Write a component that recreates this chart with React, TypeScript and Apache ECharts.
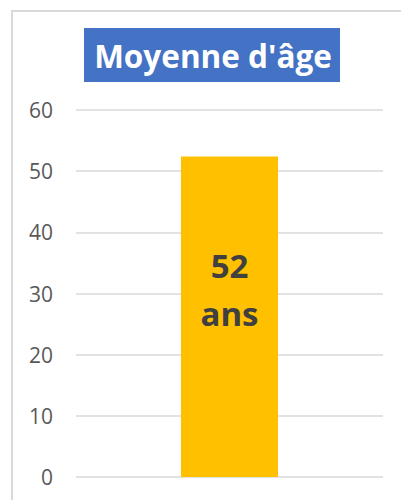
import React, { useEffect, useRef } from "react";
import * as echarts from "echarts";

const categories = ["Moyenne"];
const values = [52.4];
const labelText = "52\nans";
const titleText = "Moyenne d'âge";
const yTicks = { min: 0, max: 60, interval: 10 };

export default function App() {
  const ref = useRef<HTMLDivElement>(null);
  useEffect(() => {
    document.body.style.margin = "0";
    const chart = echarts.init(ref.current!, null, { renderer: "svg" });
    chart.setOption({
      animation: false,
      backgroundColor: "#ffffff",
      grid: { left: 76, right: 18, top: 110, bottom: 23, containLabel: false },
      graphic: [
        {
          type: "rect",
          shape: { x: 12, y: 11, width: 420, height: 520 },
          style: { fill: "none", stroke: "#d9d9d9", lineWidth: 2 },
          silent: true,
          z: -1,
        },
        {
          type: "rect",
          shape: { x: 84, y: 28, width: 256, height: 54 },
          style: { fill: "#4472C4" },
          z: 1,
        },
        {
          type: "text",
          x: 213,
          y: 55,
          style: {
            text: titleText,
            fill: "#ffffff",
            font: "bold 31.5px 'Open Sans'",
            align: "center",
            verticalAlign: "middle",
          },
          z: 2,
        },
      ],
      xAxis: {
        type: "category",
        data: categories,
        axisLine: { show: false },
        axisTick: { show: false },
        axisLabel: { show: false },
      },
      yAxis: {
        type: "value",
        min: yTicks.min,
        max: yTicks.max,
        interval: yTicks.interval,
        axisLine: { show: false },
        axisTick: { show: false },
        axisLabel: {
          color: "#595959",
          fontSize: 21,
          fontFamily: "Open Sans",
          margin: 23,
        },
        splitLine: { lineStyle: { color: "#d9d9d9", width: 1.5 } },
      },
      series: [
        {
          type: "bar",
          data: values,
          barWidth: 97,
          itemStyle: { color: "#FFC000" },
          label: {
            show: true,
            position: "inside",
            formatter: labelText,
            color: "#404040",
            fontSize: 33,
            fontWeight: "bold",
            fontFamily: "Open Sans",
            lineHeight: 48,
            offset: [0, -27],
          },
        },
      ],
    });
    return () => chart.dispose();
  }, []);
  return <div ref={ref} style={{ width: 401, height: 500 }} />;
}
